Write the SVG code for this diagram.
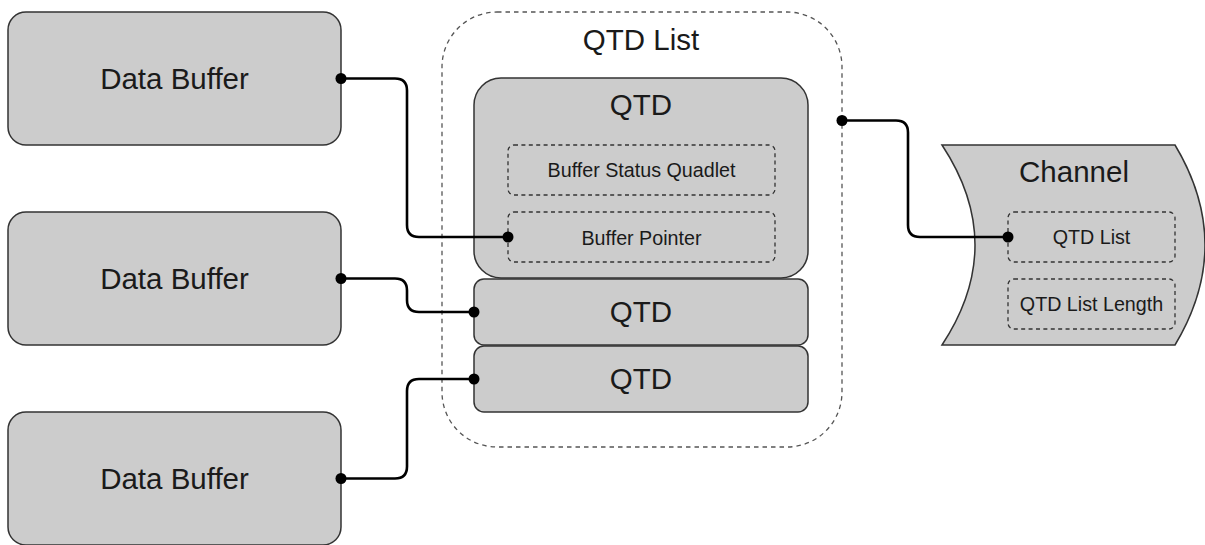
<svg xmlns="http://www.w3.org/2000/svg" width="1205" height="545" viewBox="0 0 1205 545">
<style>
.box{fill:#cccccc;stroke:#333333;stroke-width:1.5}
.dash{fill:none;stroke:#333333;stroke-width:1.3;stroke-dasharray:4 3.4}
.outer{fill:none;stroke:#555555;stroke-width:1.3;stroke-dasharray:4.5 4}
.big{font-family:"Liberation Sans",Arial,sans-serif;font-size:29.5px;fill:#1a1a1a;text-anchor:middle}
.small{font-family:"Liberation Sans",Arial,sans-serif;font-size:19.7px;fill:#1a1a1a;text-anchor:middle}
.wire{fill:none;stroke:#000000;stroke-width:2.6}
.dot{fill:#000000}
</style>
<rect width="1205" height="545" fill="#ffffff"/>
<g id="data-buffer-1">
<rect class="box" x="8" y="12" width="333" height="133" rx="18"/>
<text class="big" x="174.5" y="88.5">Data Buffer</text>
</g>
<g id="data-buffer-2">
<rect class="box" x="8" y="212" width="333" height="133" rx="18"/>
<text class="big" x="174.5" y="288.5">Data Buffer</text>
</g>
<g id="data-buffer-3">
<rect class="box" x="8" y="412" width="333" height="133" rx="18"/>
<text class="big" x="174.5" y="488.5">Data Buffer</text>
</g>
<g id="qtd-list">
<rect class="outer" x="442" y="12" width="400" height="435" rx="55"/>
<text class="big" x="641" y="49.5">QTD List</text>
</g>
<g id="qtd-1">
<rect class="box" x="474" y="78" width="334" height="200" rx="27"/>
<text class="big" x="641" y="115">QTD</text>
</g>
<g id="buffer-status-quadlet">
<rect class="dash" x="508" y="145" width="267" height="50" rx="6"/>
<text class="small" x="641.5" y="177.3">Buffer Status Quadlet</text>
</g>
<g id="buffer-pointer">
<rect class="dash" x="508" y="212" width="267" height="50" rx="6"/>
<text class="small" x="641.5" y="245">Buffer Pointer</text>
</g>
<g id="qtd-2">
<rect class="box" x="474" y="279" width="334" height="66" rx="10"/>
<text class="big" x="641" y="322">QTD</text>
</g>
<g id="qtd-3">
<rect class="box" x="474" y="346" width="334" height="66" rx="10"/>
<text class="big" x="641" y="388.5">QTD</text>
</g>
<g id="channel">
<path class="box" d="M942,145 L1175,145 Q1235,245 1175,345 L942,345 Q1008,245 942,145 Z"/>
<text class="big" x="1074" y="181.7">Channel</text>
</g>
<g id="channel-qtd-list">
<rect class="dash" x="1008" y="212" width="167" height="50" rx="6"/>
<text class="small" x="1091.5" y="244">QTD List</text>
</g>
<g id="channel-qtd-list-length">
<rect class="dash" x="1008" y="279" width="167" height="50" rx="6"/>
<text class="small" x="1091.5" y="311">QTD List Length</text>
</g>
<g id="connectors">
<path class="wire" d="M341,78.5 H395 Q407,78.5 407,90.5 V225 Q407,237 419,237 H508"/>
<path class="wire" d="M341,278.5 H395 Q407,278.5 407,290.5 V300 Q407,312 419,312 H474"/>
<path class="wire" d="M341,478.5 H395 Q407,478.5 407,466.5 V391 Q407,379 419,379 H474"/>
<path class="wire" d="M842,120.5 H896 Q908,120.5 908,132.5 V225 Q908,237 920,237 H1008"/>
<circle class="dot" cx="341" cy="78.5" r="5.5"/>
<circle class="dot" cx="508" cy="237" r="5.5"/>
<circle class="dot" cx="341" cy="278.5" r="5.5"/>
<circle class="dot" cx="474" cy="312" r="5.5"/>
<circle class="dot" cx="341" cy="478.5" r="5.5"/>
<circle class="dot" cx="474" cy="379" r="5.5"/>
<circle class="dot" cx="842" cy="120.5" r="5.5"/>
<circle class="dot" cx="1008" cy="237" r="5.5"/>
</g>
</svg>
